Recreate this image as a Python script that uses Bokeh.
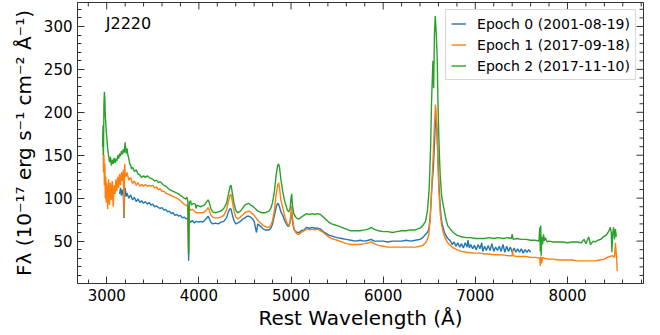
import math
from bokeh.plotting import figure
from bokeh.models import SingleIntervalTicker, Label, Legend, LegendItem, Range1d
from bokeh.embed import file_html
from bokeh.resources import INLINE

FONT = "DejaVu Sans"

# ---------------- data ----------------
labels = ["Epoch 0 (2001-08-19)", "Epoch 1 (2017-09-18)", "Epoch 2 (2017-11-10)"]
colors = ["#1f77b4", "#ff7f0e", "#2ca02c"]
object_name = "J2220"

wave_e0 = [3140,3150,3160,3170,3180,3188,3195,3200,3210,3220,
           3240,3260,3280,3300,3320,3340,3360,3380,3400,3420,
           3440,3460,3480,3500,3520,3540,3560,3580,3600,3620,
           3640,3660,3680,3700,3720,3740,3760,3780,3800,3820,
           3840,3860,3880,3885,3889,3893,3898,3910,3930,3950,
           3970,4000,4020,4040,4060,4080,4100,4110,4130,4150,
           4180,4210,4240,4270,4300,4320,4340,4350,4360,4380,
           4400,4420,4440,4460,4480,4500,4520,4540,4560,4580,
           4600,4625,4640,4660,4680,4700,4720,4740,4760,4780,
           4800,4820,4840,4855,4865,4875,4890,4910,4930,4950,
           4960,4975,4990,5000,5007,5015,5030,5050,5070,5090,
           5110,5140,5170,5200,5230,5260,5290,5320,5350,5380,
           5410,5440,5470,5500,5550,5600,5650,5700,5750,5800,
           5840,5870,5900,5950,6000,6050,6100,6150,6200,6250,
           6300,6350,6400,6430,6460,6480,6496,6510,6520,6530,
           6545,6555,6565,6575,6582,6593,6603,6615,6627,6640,
           6665,6694,6730,6750,6770,6790,6810,6830,6850,6870,
           6890,6910,6920,6935,6950,6970,6990,7010,7030,7050,
           7070,7080,7100,7120,7140,7160,7180,7200,7220,7240,
           7260,7280,7300,7320,7340,7360,7380,7400,7420,7440,
           7460,7480,7500,7520,7540,7560,7580,7600]
flux_e0 = [105,112,103,110,104,77,108,112,102,106,
           100,104,98,101,96,99,95,97,94,96,
           93,95,92,93,90,91,89,88,89,86,
           87,84,85,82,83,80,81,79,80,77,
           78,76,77,55,27,60,74,72,74,71,
           73,72,73,72,74,76,79,77,72,70,
           71,70,72,73,77,84,88,87,82,74,
           70,71,72,74,76,77,79,79,78,76,
           73,60,70,68,66,64,63,63,63,65,
           70,80,90,94,93,90,84,80,74,70,
           68,67,72,80,84,74,64,61,60,60,
           62,63,66,65,66,65,65,64,61,59,
           57,56,55,54,53,52,51,50,51,50,
           51,52,50,50,50,49,50,50,50,51,
           50,51,52,54,58,60,64,78,97,115,
           136,160,185,196,180,152,120,97,80,70,
           60,54,50,46,49,44,48,43,47,42,
           48,43,51,42,46,41,45,40,46,41,
           48,38,44,39,45,39,47,38,43,39,
           44,38,46,37,44,38,43,37,42,37,
           41,37,41,36,40,37,40,37]

wave_e1 = [2955,2960,2965,2970,2975,2980,2985,2990,2995,3000,
           3010,3020,3030,3040,3050,3060,3070,3080,3090,3100,
           3110,3120,3130,3140,3150,3160,3170,3180,3188,3195,
           3200,3210,3220,3240,3260,3280,3300,3320,3340,3360,
           3380,3400,3420,3440,3460,3480,3500,3520,3540,3560,
           3580,3600,3620,3640,3660,3680,3700,3720,3740,3760,
           3780,3800,3820,3840,3860,3880,3885,3889,3893,3898,
           3910,3930,3950,3970,4000,4020,4040,4060,4080,4100,
           4110,4130,4150,4180,4210,4240,4270,4300,4320,4340,
           4350,4360,4380,4400,4420,4440,4460,4480,4500,4520,
           4540,4560,4580,4600,4620,4640,4660,4680,4700,4720,
           4740,4760,4780,4800,4820,4840,4855,4865,4875,4890,
           4910,4930,4950,4960,4975,4990,5000,5007,5015,5030,
           5050,5070,5090,5110,5140,5170,5200,5230,5260,5290,
           5320,5350,5380,5410,5440,5470,5500,5550,5600,5650,
           5700,5750,5800,5840,5870,5900,5950,6000,6050,6100,
           6150,6200,6250,6300,6350,6400,6430,6460,6480,6496,
           6510,6520,6530,6542,6552,6560,6568,6575,6586,6595,
           6603,6612,6620,6635,6657,6680,6700,6730,6760,6800,
           6850,6900,6950,7000,7050,7100,7150,7200,7250,7300,
           7350,7400,7405,7410,7450,7500,7550,7600,7650,7700,
           7705,7710,7720,7730,7750,7800,7850,7900,7950,8000,
           8050,8100,8150,8200,8250,8300,8350,8400,8430,8460,
           8490,8510,8520,8530,8540]
flux_e1 = [172,175,130,150,115,140,100,125,95,118,
           87,122,92,118,98,120,90,115,105,122,
           108,125,112,128,115,130,120,133,78,140,
           128,125,130,121,124,117,120,115,118,114,
           116,114,116,114,115,114,115,112,113,110,
           111,108,108,106,105,104,103,102,101,100,
           99,97,95,93,92,90,60,35,70,88,
           86,87,85,83,83,83,83,84,86,89,
           87,80,78,77,77,78,80,86,96,104,
           104,98,86,78,76,77,79,81,83,84,
           85,84,82,80,77,74,72,70,68,67,
           66,66,68,74,86,105,115,118,112,98,
           89,80,73,70,68,72,85,91,78,66,
           60,58,58,60,62,64,63,64,63,64,
           62,60,57,55,53,52,51,49,47,46,
           46,46,47,48,49,47,45,44,43,43,
           43,43,43,43,43,44,45,48,52,58,
           75,97,120,147,175,194,209,200,175,140,
           112,95,81,68,58,52,48,45,42,40,
           38,37,36.5,36,36,35,35,34,34,34,
           33,33,40,33,32,32,32,31,31,30,
           21,32,24,31,30,29,29,28,28,28,
           28,27,27,27,27,27,28,29,31,32,
           33,31,48,35,15]

wave_e2 = [2955,2960,2965,2970,2975,2980,2985,2990,2995,3000,
           3010,3020,3030,3040,3050,3060,3070,3080,3090,3100,
           3110,3120,3130,3140,3150,3160,3170,3180,3190,3200,
           3210,3220,3230,3240,3250,3260,3270,3280,3300,3320,
           3340,3360,3380,3400,3420,3440,3460,3480,3500,3520,
           3540,3560,3580,3600,3620,3640,3660,3680,3700,3720,
           3740,3760,3780,3800,3820,3840,3860,3870,3880,3885,
           3889,3893,3898,3910,3920,3940,3960,3970,3980,4000,
           4020,4040,4060,4080,4100,4110,4130,4150,4180,4210,
           4240,4270,4300,4320,4340,4350,4360,4380,4400,4420,
           4440,4460,4480,4500,4520,4540,4560,4580,4600,4620,
           4640,4660,4680,4700,4720,4740,4760,4780,4800,4820,
           4840,4855,4865,4875,4890,4910,4930,4950,4960,4975,
           4990,5000,5007,5015,5030,5050,5070,5090,5110,5140,
           5170,5200,5230,5260,5290,5320,5350,5380,5410,5440,
           5470,5500,5550,5600,5650,5700,5750,5800,5840,5870,
           5900,5950,6000,6050,6100,6150,6200,6250,6300,6350,
           6400,6430,6460,6480,6500,6515,6525,6540,6548,6556,
           6565,6572,6580,6586,6595,6603,6612,6620,6635,6657,
           6680,6700,6730,6760,6800,6850,6900,6950,7000,7050,
           7100,7150,7200,7250,7300,7350,7390,7400,7410,7450,
           7500,7550,7600,7650,7690,7700,7705,7710,7715,7720,
           7730,7740,7750,7760,7780,7800,7850,7900,7950,8000,
           8050,8100,8150,8180,8200,8230,8250,8280,8300,8330,
           8360,8390,8420,8440,8455,8465,8475,8482,8490,8500,
           8510,8520,8530]
flux_e2 = [160,185,150,210,224,215,195,188,178,172,
           158,150,142,148,138,145,140,147,141,146,
           143,150,146,152,149,155,151,157,153,165,
           152,158,150,146,140,138,134,136,131,133,
           128,127,124,126,124,126,124,123,122,120,
           121,118,119,117,115,114,112,110,109,108,
           107,106,105,103,102,100,99,101,97,60,
           35,70,95,97,92,94,93,88,92,91,
           90,91,92,95,98,96,88,84,83,84,
           85,88,94,104,114,115,108,95,86,83,
           84,86,89,92,93,94,92,91,89,87,
           85,84,83,83,83,84,85,88,95,108,
           128,138,140,136,122,108,97,90,86,84,
           88,100,105,92,82,78,76,76,78,80,
           82,81,82,81,82,81,78,75,72,70,
           69,68,66,64,62,62,62,63,64,66,
           64,62,61,61,60,61,62,62,63,63,
           65,68,73,85,112,160,213,260,228,290,
           312,300,280,265,210,175,145,124,102,89,
           76,68,64,60,57,55,54,54,53,53,
           53,54,53,54,53,54,53,58,52,53,
           52,52,51,51,50,66,38,68,33,55,
           46,58,50,54,49,50,49,49,49,48,
           49,49,48,52,47,55,46,50,49,51,
           52,55,57,60,63,66,60,37,58,66,
           52,64,55]

waves = [wave_e0, wave_e1, wave_e2]
fluxes = [flux_e0, flux_e1, flux_e2]
for w, f in zip(waves, fluxes):
    assert len(w) == len(f), (len(w), len(f))

x_lim = (2683, 8825)
y_lim = (0.6, 327.9)
x_major, x_minor = 1000, 200
y_major, y_minor = 50, 10

AX_COLOR = "#333333"

# ---------------- figure ----------------
p = figure(width=660, height=335, output_backend="svg", toolbar_location=None,
           x_range=Range1d(*x_lim), y_range=Range1d(*y_lim),
           min_border_left=77, min_border_right=17, min_border_top=2, min_border_bottom=52)
p.xgrid.visible = False
p.ygrid.visible = False
p.outline_line_color = AX_COLOR
p.outline_line_width = 1
p.background_fill_color = "white"
p.border_fill_color = "white"

renderers = []
for w, f, c in zip(waves, fluxes, colors):
    r = p.line(w, f, line_color=c, line_width=1.4)
    renderers.append(r)

p.xaxis.ticker = SingleIntervalTicker(interval=x_major, num_minor_ticks=x_major // x_minor)
p.yaxis.ticker = SingleIntervalTicker(interval=y_major, num_minor_ticks=y_major // y_minor)

for ax in p.xaxis + p.yaxis:
    ax.axis_line_color = AX_COLOR
    ax.axis_line_width = 1
    ax.major_tick_in = 7
    ax.major_tick_out = 0
    ax.minor_tick_in = 4
    ax.minor_tick_out = 0
    ax.major_tick_line_color = AX_COLOR
    ax.minor_tick_line_color = AX_COLOR
    ax.major_label_text_font = FONT
    ax.major_label_text_color = "black"
    ax.major_label_text_font_size = "15px"
    ax.major_label_standoff = 5
    ax.axis_label_text_font = FONT
    ax.axis_label_text_font_size = "20px"
    ax.axis_label_text_font_style = "normal"
    ax.axis_label_text_color = "black"

p.xaxis.axis_label = "Rest Wavelength (Å)"
p.yaxis.axis_label = "Fλ (10⁻¹⁷ erg s⁻¹ cm⁻² Å⁻¹)"
p.xaxis.axis_label_standoff = 2
p.yaxis.axis_label_standoff = 5

# inward ticks on the top and right edges (matplotlib style mirrored ticks)
def tick_values(lo, hi, step):
    start = math.ceil(lo / step) * step
    vals = []
    v = start
    while v <= hi:
        vals.append(v)
        v += step
    return vals

xM = tick_values(*x_lim, x_major)
xm = [v for v in tick_values(*x_lim, x_minor) if v % x_major]
yM = tick_values(*y_lim, y_major)
ym = [v for v in tick_values(*y_lim, y_minor) if v % y_major]

p.scatter(xM, [y_lim[1]] * len(xM), marker="dash", size=14, angle=math.pi / 2,
          line_color=AX_COLOR, line_width=1)
p.scatter(xm, [y_lim[1]] * len(xm), marker="dash", size=8, angle=math.pi / 2,
          line_color=AX_COLOR, line_width=1)
p.scatter([x_lim[1]] * len(yM), yM, marker="dash", size=14,
          line_color=AX_COLOR, line_width=1)
p.scatter([x_lim[1]] * len(ym), ym, marker="dash", size=8,
          line_color=AX_COLOR, line_width=1)

legend = Legend(items=[LegendItem(label=l, renderers=[r]) for l, r in zip(labels, renderers)],
                location="top_right")
legend.margin = 7
legend.padding = 5
legend.spacing = 4
legend.glyph_width = 15
legend.glyph_height = 17
legend.label_height = 17
legend.label_standoff = 11
legend.label_text_font = FONT
legend.label_text_font_size = "14px"
legend.label_text_color = "black"
legend.border_line_color = "#cccccc"
legend.border_line_alpha = 0.8
legend.background_fill_alpha = 0.8
p.add_layout(legend)

name_x, name_y = 2990, 303.5
p.add_layout(Label(x=name_x, y=name_y, text=object_name, text_font=FONT, text_font_size="16px",
                   text_baseline="middle", text_align="left", text_color="black"))

open("out.html", "w").write(file_html(p, INLINE))
